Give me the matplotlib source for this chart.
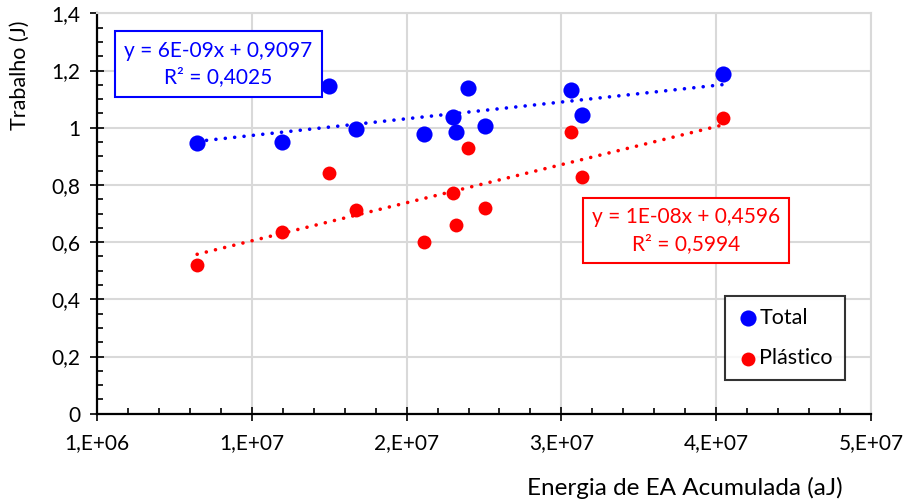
import numpy as np
import matplotlib
matplotlib.use("Agg")
import matplotlib.pyplot as plt
from matplotlib.ticker import MultipleLocator, FixedLocator, FuncFormatter
import math

plt.rcParams['font.family'] = ['Lato', 'DejaVu Sans']

# Data
energy = [7.47e6, 12.98e6, 15.97e6, 17.71e6, 22.15e6, 23.98e6, 24.17e6,
          24.94e6, 26.06e6, 31.61e6, 32.35e6, 41.45e6]
total = [0.945, 0.951, 1.147, 0.994, 0.977, 1.036, 0.986, 1.138, 1.006,
         1.133, 1.043, 1.188]
plastico = [0.520, 0.634, 0.842, 0.713, 0.599, 0.773, 0.661, 0.929, 0.720,
            0.984, 0.828, 1.033]
series_names = ["Total", "Plástico"]
eq_total = "y = 6E-09x + 0,9097\nR² = 0,4025"
eq_plast = "y = 1E-08x + 0,4596\nR² = 0,5994"
xlabel = "Energia de EA Acumulada (aJ)"
ylabel = "Trabalho (J)"

W, H = 908, 503
fig = plt.figure(figsize=(W / 100, H / 100), dpi=100)
ax = fig.add_axes([97 / W, 1 - 413.7 / H, (871 - 97) / W, (413.7 - 13.3) / H])

x = np.array(energy)
blue = "#0000ff"
red = "#ff0000"

for yv, col in [(np.array(total), blue), (np.array(plastico), red)]:
    m, b = np.polyfit(x, yv, 1)
    xs = np.array([x.min(), x.max()])
    ax.plot(xs, m * xs + b, color=col, lw=2.6, linestyle=(0, (0.01, 2.6)),
            dash_capstyle='round', zorder=2)

ax.scatter(x, total, s=135, color=blue, zorder=3, label=series_names[0], linewidths=0)
ax.scatter(x, plastico, s=100, color=red, zorder=3, label=series_names[1], linewidths=0)

ax.set_xlim(1e6, 5.1e7)
ax.set_ylim(0, 1.4)

ax.xaxis.set_major_locator(FixedLocator([1e6 + k * 1e7 for k in range(6)]))
ax.xaxis.set_minor_locator(FixedLocator([1e6 + k * 2e6 for k in range(26)]))
ax.yaxis.set_major_locator(MultipleLocator(0.2))
ax.yaxis.set_minor_locator(MultipleLocator(0.05))


def xfmt(v, pos):
    e = int(math.floor(math.log10(v)))
    mant = int(v / 10 ** e)
    return f"{mant},E+{e:02d}"


def yfmt(v, pos):
    s = f"{v:.1f}"
    if s.endswith(".0"):
        s = s[:-2]
    return s.replace(".", ",")


ax.xaxis.set_major_formatter(FuncFormatter(xfmt))
ax.yaxis.set_major_formatter(FuncFormatter(yfmt))

ax.grid(True, which='major', color='#d9d9d9', lw=1.5, zorder=0)
ax.set_axisbelow(True)
for s in ['top', 'right']:
    ax.spines[s].set_color('#d9d9d9')
    ax.spines[s].set_linewidth(1.5)
for s in ['left', 'bottom']:
    ax.spines[s].set_color('black')
    ax.spines[s].set_linewidth(1.6)

ax.tick_params(which='major', direction='inout', length=10, width=1.2,
               labelsize=15, colors='black')
ax.tick_params(axis='x', which='major', pad=9)
ax.tick_params(axis='y', which='major', pad=7)
ax.tick_params(which='minor', direction='in', length=4, width=1.2)

# Trendline equation boxes
fig.text((115 + 321) / 2 / W, 1 - 64 / H, eq_total, ha='center', va='center',
         color=blue, fontsize=15, linespacing=1.4,
         bbox=dict(boxstyle='square,pad=0.45', fc='white', ec=blue, lw=1.5))
fig.text((583 + 789) / 2 / W, 1 - 230.5 / H, eq_plast, ha='center', va='center',
         color=red, fontsize=15, linespacing=1.4,
         bbox=dict(boxstyle='square,pad=0.45', fc='white', ec=red, lw=1.5))

leg = ax.legend(loc='upper left', bbox_to_anchor=((725 - 97) / 774, (413.7 - 296) / 400.4),
                frameon=True, fancybox=False, edgecolor='black', fontsize=15.5,
                handletextpad=0.05, labelspacing=0.95, borderpad=0.55,
                handlelength=1.0, borderaxespad=0)
leg.get_frame().set_linewidth(1.5)

fig.text(20 / W, 1 - 75 / H, ylabel, rotation=90, ha='center', va='center', fontsize=15.5)
fig.text(685 / W, 1 - 488 / H, xlabel, ha='center', va='center', fontsize=17.5)

fig.savefig("out.png", dpi=100)
